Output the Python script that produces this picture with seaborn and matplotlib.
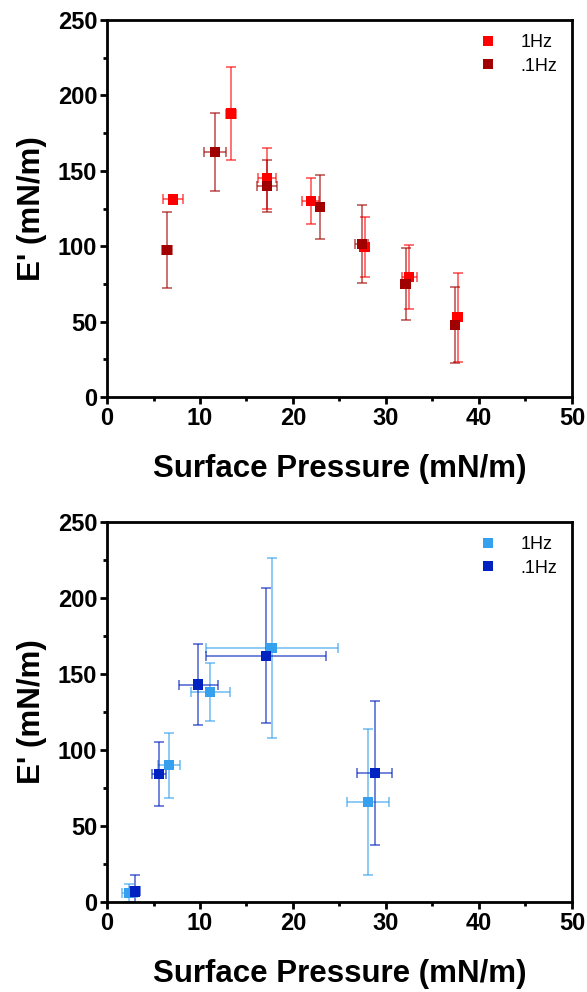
import matplotlib
matplotlib.use("Agg")
import matplotlib.pyplot as plt
from matplotlib.ticker import MultipleLocator
import seaborn as sns
import pandas as pd

sns.set_theme(style="white")
plt.rcParams['font.family'] = ['Liberation Sans', 'DejaVu Sans']
plt.rcParams.update({'text.color': 'black', 'axes.labelcolor': 'black',
                     'xtick.color': 'black', 'ytick.color': 'black'})

# ---- Top panel data ----
top_x_1hz = [7.1, 13.3, 17.2, 21.9, 27.7, 32.5, 37.7]
top_y_1hz = [131, 188, 145, 130, 99.5, 79.6, 53]
top_xe_1hz = [1.1, 0.55, 0.95, 0.9, 0.5, 0.8, 0.3]
top_ye_1hz = [2, 31, 20, 15, 20, 21, 29.5]

top_x_01hz = [6.45, 11.6, 17.2, 22.9, 27.4, 32.1, 37.4]
top_y_01hz = [97.5, 162.5, 140, 126, 101.5, 75, 47.7]
top_xe_01hz = [0.5, 1.2, 1.1, 0.4, 0.7, 0.4, 0.3]
top_ye_01hz = [25, 26, 17.5, 21, 26, 24, 25]

# ---- Bottom panel data ----
bot_x_1hz = [2.4, 6.7, 11.1, 17.7, 28.1]
bot_y_1hz = [6, 90, 138, 167, 66]
bot_xe_1hz = [0.8, 1.2, 2.1, 7.1, 2.25]
bot_ye_1hz = [6, 21.5, 19, 59, 48]

bot_x_01hz = [3.0, 5.6, 9.8, 17.1, 28.8]
bot_y_01hz = [7, 84.4, 143, 162, 85]
bot_xe_01hz = [0.5, 0.75, 2.1, 6.45, 1.9]
bot_ye_01hz = [11, 21, 26.5, 44.5, 47.5]

labels = ["1Hz", ".1Hz"]
top_colors = ["#FF0000", "#A00000"]
bot_colors = ["#34A0EE", "#0022C0"]

fig = plt.figure(figsize=(5.87, 9.92), dpi=100)
ax1 = fig.add_axes([0.1823, 0.5998, 0.9744 - 0.1823, 0.9798 - 0.5998])
ax2 = fig.add_axes([0.1823, 0.0907, 0.9744 - 0.1823, 0.4738 - 0.0907])


def draw(ax, series, colors):
    rows = []
    for lab, (xs, ys, xe, ye) in zip(labels, series):
        for x, y in zip(xs, ys):
            rows.append({"x": x, "y": y, "freq": lab})
    df = pd.DataFrame(rows)
    for lab, col, (xs, ys, xe, ye) in zip(labels, colors, series):
        ax.errorbar(xs, ys, xerr=xe, yerr=ye, fmt='none', ecolor=col,
                    elinewidth=1.2, capsize=3.5, capthick=1.2, alpha=0.65, zorder=2)
    sns.scatterplot(data=df, x="x", y="y", hue="freq", hue_order=labels,
                    palette=dict(zip(labels, colors)), marker='s', s=55,
                    linewidth=0, ax=ax, zorder=3)
    ax.set_xlim(0, 50)
    ax.set_ylim(0, 250)
    ax.xaxis.set_major_locator(MultipleLocator(10))
    ax.xaxis.set_minor_locator(MultipleLocator(5))
    ax.yaxis.set_major_locator(MultipleLocator(50))
    ax.yaxis.set_minor_locator(MultipleLocator(25))
    ax.tick_params(axis='both', which='major', direction='out', length=5, width=2,
                   labelsize=17, bottom=True, left=True, top=False, right=False, pad=2)
    ax.tick_params(axis='both', which='minor', direction='out', length=3, width=2,
                   bottom=True, left=True, top=False, right=False)
    for lab in ax.get_xticklabels() + ax.get_yticklabels():
        lab.set_fontweight('bold')
    for sp in ax.spines.values():
        sp.set_visible(True)
        sp.set_color('black')
        sp.set_linewidth(2)
    ax.set_xlabel("Surface Pressure (mN/m)", fontsize=22.5, fontweight='bold')
    ax.set_ylabel("E' (mN/m)", fontsize=22.5, fontweight='bold')
    ax.xaxis.set_label_coords(0.5, -0.15)
    ax.yaxis.set_label_coords(-0.128, 0.5)
    ax.legend(loc='upper right', frameon=False, fontsize=13, handletextpad=0.8,
              markerscale=0.9, borderaxespad=0.4, labelspacing=0.35)
    ax.grid(False)


draw(ax1, [(top_x_1hz, top_y_1hz, top_xe_1hz, top_ye_1hz),
           (top_x_01hz, top_y_01hz, top_xe_01hz, top_ye_01hz)], top_colors)
draw(ax2, [(bot_x_1hz, bot_y_1hz, bot_xe_1hz, bot_ye_1hz),
           (bot_x_01hz, bot_y_01hz, bot_xe_01hz, bot_ye_01hz)], bot_colors)

fig.savefig("out.png", dpi=100)
